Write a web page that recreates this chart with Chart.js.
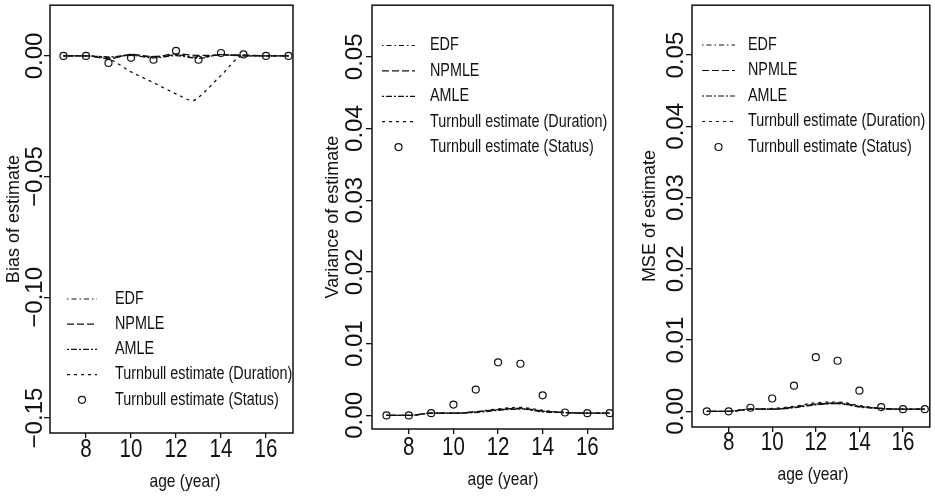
<!DOCTYPE html>
<html><head><meta charset="utf-8">
<script src="https://cdn.jsdelivr.net/npm/chart.js@4/dist/chart.umd.min.js"></script>
<style>
html,body{margin:0;padding:0;background:#fff;}
body{width:935px;height:499px;position:relative;overflow:hidden;}
.p{position:absolute;top:0;height:499px;}
canvas{display:block}
</style></head><body>
<div class="p" style="left:0;width:300px"><canvas id="c1" width="300" height="499"></canvas></div>
<div class="p" style="left:300px;width:320px"><canvas id="c2" width="320" height="499"></canvas></div>
<div class="p" style="left:620px;width:315px"><canvas id="c3" width="315" height="499"></canvas></div>
<script>
// ---------- data ----------
const ages = [7, 8, 9, 10, 11, 12, 13, 14, 15, 16, 17];
const xTicks = [8, 10, 12, 14, 16];
const xTitle = 'age (year)';
const seriesNames = ['EDF', 'NPMLE', 'AMLE', 'Turnbull estimate (Duration)', 'Turnbull estimate (Status)'];

// Bias panel
const biasTicks = [0, -0.05, -0.10, -0.15];
const biasEDF    = [0, 0, -0.0008, 0.0003, -0.0005, 0.0004, -0.0006, 0.0005, 0, 0, 0];
const biasNPMLE  = [0, 0, -0.0012, 0.0006, -0.0003, 0.0008, 0.0002, 0.0003, 0.0004, 0, 0];
const biasAMLE   = [0, 0, -0.0004, 0.0002, -0.0008, 0.0001, -0.0010, 0.0006, 0, 0, 0];
const durAges    = [7, 8, 9, 10, 11, 12, 12.75, 13, 14, 15, 16, 17];
const biasDuration = [0, 0, -0.0012, -0.0066, -0.0111, -0.0157, -0.0185, -0.0172, -0.0081, 0, 0, 0];
const biasStatus = [0, 0, -0.0029, -0.0008, -0.0016, 0.0021, -0.0016, 0.0012, 0.0006, 0, 0];

// Variance panel
const varTicks = [0, 0.01, 0.02, 0.03, 0.04, 0.05];
const varEDF      = [0, 0, 0.0003, 0.0003, 0.0005, 0.0008, 0.0009, 0.0006, 0.0004, 0.0003, 0.0003];
const varNPMLE    = [0, 0, 0.0003, 0.0003, 0.0005, 0.0008, 0.0010, 0.0006, 0.0004, 0.0003, 0.0003];
const varAMLE     = [0, 0, 0.0003, 0.0003, 0.0004, 0.0007, 0.0009, 0.0005, 0.0004, 0.0003, 0.0003];
const varDuration = [0, 0, 0.0003, 0.0003, 0.0005, 0.0009, 0.0011, 0.0007, 0.0004, 0.0003, 0.0003];
const varStatus   = [0, 0, 0.0003, 0.0015, 0.0036, 0.0074, 0.0072, 0.0028, 0.0004, 0.0003, 0.0003];

// MSE panel
const mseTicks = [0, 0.01, 0.02, 0.03, 0.04, 0.05];
const mseEDF      = [0, 0, 0.0003, 0.0003, 0.0006, 0.0010, 0.0011, 0.0007, 0.0004, 0.0003, 0.0003];
const mseNPMLE    = [0, 0, 0.0003, 0.0003, 0.0006, 0.0010, 0.0012, 0.0007, 0.0004, 0.0003, 0.0003];
const mseAMLE     = [0, 0, 0.0003, 0.0003, 0.0005, 0.0009, 0.0011, 0.0006, 0.0004, 0.0003, 0.0003];
const mseDuration = [0, 0, 0.0003, 0.0004, 0.0007, 0.0012, 0.0013, 0.0008, 0.0004, 0.0003, 0.0003];
const mseStatus   = [0, 0, 0.0005, 0.0018, 0.0036, 0.0076, 0.0071, 0.0029, 0.0006, 0.0003, 0.0003];

// ---------- styling ----------
const INK = '#111';
const REG = '"Liberation Sans", Arial, Helvetica, sans-serif';
const DASHES = [[1.5, 3, 5, 3], [7, 3], [2, 2, 6, 2], [3, 4]];
const NARROW_SCALE = 0.82;

const pts = (xs, ys) => xs.map((x, i) => ({x: x, y: ys[i]}));
const fmt = v => (v < 0 ? '\u2212' : '') + Math.abs(v).toFixed(2);

function makeDatasets(lines, status, lineXs) {
  const ds = lines.map((vals, i) => ({
    label: seriesNames[i],
    data: pts(lineXs[i], vals),
    borderColor: INK, borderWidth: 1.3, borderDash: DASHES[i],
    pointRadius: 0, fill: false, tension: 0.25, cubicInterpolationMode: 'monotone'
  }));
  ds.push({
    label: seriesNames[4],
    data: pts(ages, status),
    showLine: false, pointStyle: 'circle', pointRadius: 3.5,
    pointBorderWidth: 1.2, pointBorderColor: INK, pointBackgroundColor: 'rgba(0,0,0,0)'
  });
  return ds;
}

function narrowText(ctx, text, x, y, size, align) {
  ctx.save();
  ctx.translate(x, y); ctx.scale(NARROW_SCALE, 1);
  ctx.font = size + 'px ' + REG; ctx.textAlign = align; ctx.textBaseline = 'middle';
  ctx.fillText(text, 0, 0);
  ctx.restore();
}

const customPlugin = {
  id: 'custom',
  afterDraw(chart, args, o) {
    const ctx = chart.ctx, a = chart.chartArea, ys = chart.scales.y, xs = chart.scales.x;
    ctx.save();
    ctx.strokeStyle = INK; ctx.lineWidth = 1.5; ctx.setLineDash([]);
    ctx.strokeRect(a.left, a.top, a.right - a.left, a.bottom - a.top);
    ctx.fillStyle = INK;
    // rotated y tick labels
    ctx.font = '24px ' + REG;
    ctx.textAlign = 'center'; ctx.textBaseline = 'middle';
    ys.ticks.forEach(t => {
      const y = ys.getPixelForValue(t.value);
      ctx.save(); ctx.translate(o.yLabelX, y); ctx.rotate(-Math.PI / 2);
      ctx.fillText(fmt(t.value), 0, 0); ctx.restore();
    });
    // x tick labels and x title (narrow face)
    xs.ticks.forEach(t => {
      narrowText(ctx, String(t.value), xs.getPixelForValue(t.value), o.xLabelY, 25, 'center');
    });
    narrowText(ctx, xTitle, o.xTitleX, o.xTitleY, 19, 'center');
    // legend
    const L = o.legend;
    chart.data.datasets.forEach((d, i) => {
      const y = L.y0 + i * L.dy;
      ctx.strokeStyle = INK; ctx.lineWidth = 1.2;
      if (d.showLine === false) {
        ctx.setLineDash([]);
        ctx.beginPath(); ctx.arc((L.x0 + L.x1) / 2, y, 3.5, 0, Math.PI * 2); ctx.stroke();
      } else {
        ctx.setLineDash(d.borderDash || []);
        ctx.beginPath(); ctx.moveTo(L.x0, y); ctx.lineTo(L.x1, y); ctx.stroke();
      }
      ctx.setLineDash([]);
      narrowText(ctx, d.label, L.tx, y, 17.5, 'left');
    });
    ctx.restore();
  }
};

function makeChart(id, P) {
  const W = P.width;
  new Chart(document.getElementById(id), {
    type: 'line',
    data: {datasets: P.datasets},
    plugins: [customPlugin],
    options: {
      responsive: false, animation: false, devicePixelRatio: 1,
      layout: {padding: {left: 0, right: W - P.area.right, top: P.area.top, bottom: 0}},
      plugins: {legend: {display: false}, tooltip: {enabled: false}, custom: P.custom},
      scales: {
        x: {
          type: 'linear', min: P.xmin, max: P.xmax,
          afterBuildTicks: s => { s.ticks = xTicks.map(v => ({value: v})); },
          afterFit: s => { s.height = 499 - P.area.bottom; },
          grid: {drawOnChartArea: false, drawTicks: true, tickLength: 5, color: INK, lineWidth: 1.3},
          border: {display: false},
          ticks: {display: false},
          title: {display: false}
        },
        y: {
          type: 'linear', min: P.ymin, max: P.ymax,
          afterBuildTicks: s => { s.ticks = P.yTicks.map(v => ({value: v})); },
          afterFit: s => { s.width = P.area.left; },
          grid: {drawOnChartArea: false, drawTicks: true, tickLength: 6, color: INK, lineWidth: 1.3},
          border: {display: false},
          ticks: {display: false},
          title: {display: true, text: P.yTitle, color: INK,
                  font: {family: REG, size: 18, lineHeight: 1.2}, padding: {top: P.yTitleX - 10.8, bottom: 0}}
        }
      }
    }
  });
}

makeChart('c1', {
  width: 300, area: {left: 50, right: 293, top: 3, bottom: 433},
  xmin: 6.4, xmax: 17.2,
  ymin: -0.1562, ymax: 0.021, yTicks: biasTicks, yTitle: 'Bias of estimate', yTitleX: 14,
  datasets: makeDatasets([biasEDF, biasNPMLE, biasAMLE, biasDuration], biasStatus, [ages, ages, ages, durAges]),
  custom: {yLabelX: 35, xLabelY: 450, xTitleX: 185, xTitleY: 482,
           legend: {x0: 67, x1: 97, tx: 115, y0: 299, dy: 25.2}}
});
makeChart('c2', {
  width: 320, area: {left: 72, right: 313, top: 3, bottom: 429},
  xmin: 6.35, xmax: 17.15,
  ymin: -0.0019, ymax: 0.0572, yTicks: varTicks, yTitle: 'Variance of estimate', yTitleX: 33,
  datasets: makeDatasets([varEDF, varNPMLE, varAMLE, varDuration], varStatus, [ages, ages, ages, ages]),
  custom: {yLabelX: 55, xLabelY: 448, xTitleX: 203, xTitleY: 480,
           legend: {x0: 82, x1: 115, tx: 130, y0: 45.5, dy: 25.4}}
});
makeChart('c3', {
  width: 315, area: {left: 72, right: 313, top: 3, bottom: 427},
  xmin: 6.32, xmax: 17.23,
  ymin: -0.0022, ymax: 0.057, yTicks: mseTicks, yTitle: 'MSE of estimate', yTitleX: 30,
  datasets: makeDatasets([mseEDF, mseNPMLE, mseAMLE, mseDuration], mseStatus, [ages, ages, ages, ages]),
  custom: {yLabelX: 56, xLabelY: 443, xTitleX: 193, xTitleY: 475,
           legend: {x0: 82, x1: 115, tx: 128, y0: 45, dy: 25.5}}
});
</script>
</body></html>
